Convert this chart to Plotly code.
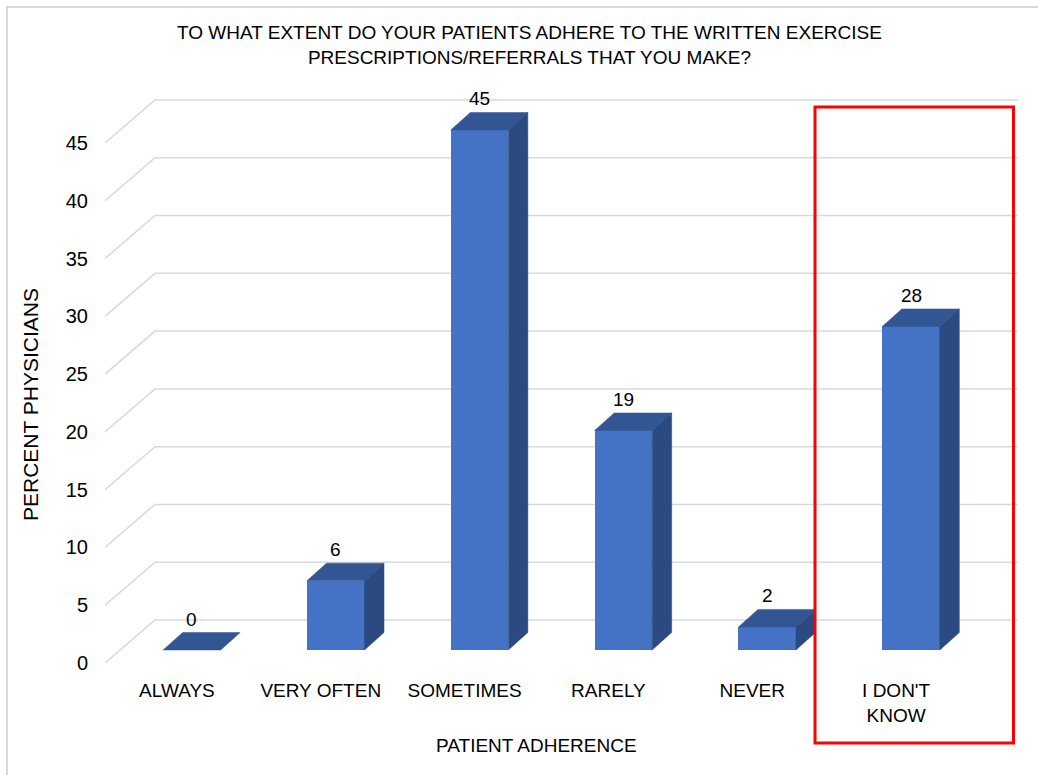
import plotly.graph_objects as go

# Survey results
categories = ["ALWAYS", "VERY OFTEN", "SOMETIMES", "RARELY", "NEVER", "I DON'T<br>KNOW"]
percent = [0, 6, 45, 19, 2, 28]
y_ticks = [0, 5, 10, 15, 20, 25, 30, 35, 40, 45]

title_text = ("TO WHAT EXTENT DO YOUR PATIENTS ADHERE TO THE WRITTEN EXERCISE<br>"
              "PRESCRIPTIONS/REFERRALS THAT YOU MAKE?")

# Figure geometry (pixels)
W, H = 1038, 775
L, R, T, B = 105, 20, 85, 112
plot_w = W - L - R
plot_h = H - T - B
PX_X = 143.83          # pixels per category
PX_Y = 11.556          # pixels per percent
X_MIN = -0.5
X_MAX = X_MIN + plot_w / PX_X
Y_MAX = plot_h / PX_Y

# 3-D offsets in data units
BX, BY = 50 / PX_X, 43 / PX_Y        # back wall offset
FX, FY = 15 / PX_X, 13 / PX_Y        # bar front plane offset
DX, DY = 19.5 / PX_X, 17.5 / PX_Y    # bar depth
BAR_W = 0.4

FONT = "Liberation Sans Narrow, Arial Narrow, Liberation Sans, Arial, sans-serif"
FS = 19
FRONT = "#4472C4"
TOP = "#325694"
SIDE = "#2B4A82"
GRID = "#d9d9d9"

fig = go.Figure()

# perspective gridlines: diagonal from the front plane to the back wall, then across
shapes = []
for v in y_ticks:
    shapes.append(dict(
        type="path", xref="x", yref="y", layer="below",
        path=f"M {X_MIN},{v} L {X_MIN + BX},{v + BY} L {X_MAX},{v + BY}",
        line=dict(color=GRID, width=1.5)))

xs = list(range(len(categories)))

# top and side faces of each bar
for i, v in zip(xs, percent):
    x0 = i + FX - BAR_W / 2
    x1 = i + FX + BAR_W / 2
    yb = FY
    yt = FY + v
    fig.add_trace(go.Scatter(
        x=[x0, x1, x1 + DX, x0 + DX, x0],
        y=[yt, yt, yt + DY, yt + DY, yt],
        mode="lines", fill="toself", fillcolor=TOP,
        line=dict(color=TOP, width=0.5), hoverinfo="skip", showlegend=False))
    if v > 0:
        fig.add_trace(go.Scatter(
            x=[x1, x1 + DX, x1 + DX, x1, x1],
            y=[yb, yb + DY, yt + DY, yt, yb],
            mode="lines", fill="toself", fillcolor=SIDE,
            line=dict(color=SIDE, width=0.5), hoverinfo="skip", showlegend=False))

# front faces
fig.add_trace(go.Bar(
    x=[i + FX for i in xs], y=percent, base=FY, width=BAR_W,
    marker=dict(color=FRONT, line=dict(width=0)),
    hoverinfo="skip", showlegend=False))

annotations = []
for i, v in zip(xs, percent):
    annotations.append(dict(
        x=i + FX, y=FY + v + DY, xref="x", yref="y",
        text=str(v), showarrow=False, yanchor="bottom", yshift=1,
        font=dict(family=FONT, size=FS, color="#000000")))

# chart title, axis titles
annotations.append(dict(
    x=(529 - L) / plot_w, y=(H - B - 45) / plot_h, xref="paper", yref="paper",
    text=title_text, showarrow=False, xanchor="center", yanchor="middle",
    font=dict(family=FONT, size=FS, color="#000000")))
annotations.append(dict(
    x=2.5, y=(H - B - 745) / plot_h, xref="x", yref="paper",
    text="PATIENT ADHERENCE", showarrow=False, xanchor="center", yanchor="middle",
    font=dict(family=FONT, size=FS, color="#000000")))
annotations.append(dict(
    x=(30 - L) / plot_w, y=(H - B - 405) / plot_h, xref="paper", yref="paper",
    text="PERCENT PHYSICIANS", showarrow=False, textangle=-90,
    xanchor="center", yanchor="middle",
    font=dict(family=FONT, size=21, color="#000000")))

# highlight box around the last category
shapes.append(dict(
    type="rect", xref="paper", yref="paper",
    x0=(815 - L) / plot_w, x1=(1013.5 - L) / plot_w,
    y0=(H - B - 743) / plot_h, y1=(H - B - 107) / plot_h,
    line=dict(color="#FF0000", width=3), fillcolor="rgba(0,0,0,0)"))

# outer chart frame
shapes.append(dict(
    type="rect", xref="paper", yref="paper",
    x0=(7 - L) / plot_w, x1=(W + 20 - L) / plot_w,
    y0=(H - B - (H + 20)) / plot_h, y1=(H - B - 7) / plot_h,
    line=dict(color=GRID, width=2), fillcolor="rgba(0,0,0,0)"))

fig.update_layout(
    width=W, height=H,
    margin=dict(l=L, r=R, t=T, b=B, autoexpand=False),
    paper_bgcolor="white", plot_bgcolor="white",
    shapes=shapes, annotations=annotations,
    bargap=0,
    xaxis=dict(range=[X_MIN, X_MAX], tickvals=xs, ticktext=categories,
               showgrid=False, zeroline=False, showline=False, ticks="",
               ticklabelstandoff=14,
               tickfont=dict(family=FONT, size=FS, color="#000000")),
    yaxis=dict(range=[0, Y_MAX], tickvals=y_ticks, showgrid=False,
               zeroline=False, showline=False, ticks="", ticklabelstandoff=16,
               tickfont=dict(family=FONT, size=20, color="#000000")),
)

fig.write_html("out.html")
